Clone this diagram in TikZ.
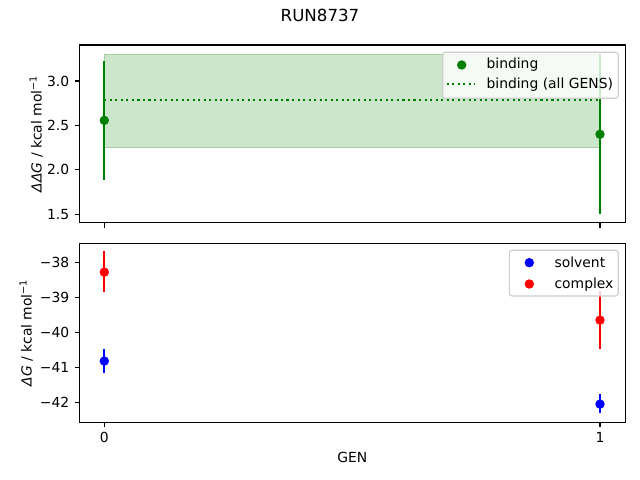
\documentclass[tikz,border=0pt]{standalone}
\usepackage{fontspec}
\setmainfont{DejaVu Sans}
\usetikzlibrary{positioning}
\definecolor{mplgreen}{HTML}{008000}
\definecolor{mplblue}{HTML}{0000FF}
\definecolor{mplred}{HTML}{FF0000}
\definecolor{legframe}{HTML}{CCCCCC}

\begin{document}
\begin{tikzpicture}[x=0.72pt,y=0.72pt,
    lbl/.style={inner sep=0pt,font=\fontsize{10}{12}\selectfont},
    dot/.style={circle,fill=#1,inner sep=0pt,minimum size=6.8pt},
    ebar/.style={#1,line width=1.5pt},
    spine/.style={line width=0.8pt},
    legbox/.style={draw=legframe,fill=white,fill opacity=0.8,line width=0.8pt,rounded corners=2pt}]
  \useasboundingbox (0,0) rectangle (640,480);
  % axes frames, in pixels with y going up
  \coordinate (topSW) at (79.3,257.3);
  \coordinate (topNE) at (625.3,435);
  \coordinate (botSW) at (79.3,57.7);
  \coordinate (botNE) at (625.3,236.7);
  \node[lbl,font=\fontsize{12}{14}\selectfont,anchor=base] (title) at (320,458.3) {RUN8737};

  % upper panel: GEN against binding free energy
  \begin{scope}[shift={(75.096pt,95.472pt)},x=356.904pt,y=63.936pt]
    \fill[mplgreen,opacity=0.2] (0,2.25) rectangle (1,3.30);
    \draw[mplgreen,opacity=0.2,line width=1pt] (0,2.25) rectangle (1,3.30);
    \draw[mplgreen,line width=1.5pt,dash pattern=on 1.5pt off 2.475pt] (0,2.79) -- (1,2.79);
    \draw[ebar=mplgreen] (0,1.885) -- (0,3.225);
    \draw[ebar=mplgreen] (1,1.50) -- (1,3.30);
    \node[dot=mplgreen] (bind0) at (0,2.557) {};
    \node[dot=mplgreen] (bind1) at (1,2.40) {};
    \foreach \v in {1.5,2.0,2.5,3.0}{\draw[spine] (-0.05,\v) -- ++(-3.5pt,0) node[lbl,left=3.5pt] {\v};}
    \foreach \g in {0,1}{\draw[spine] (\g,1.404) -- ++(0,-3.5pt);}
  \end{scope}
  \draw[spine] (topSW) rectangle (topNE);
  \node[lbl,rotate=90,anchor=base] (ylabTop) at (41.7,346.2) {{\itshape ΔΔG} / kcal mol\textsuperscript{−1}};

  % lower panel: solvent and complex legs
  \begin{scope}[shift={(75.096pt,1114.056pt)},x=356.904pt,y=25.2pt]
    \draw[ebar=mplred] (0,-37.67) -- (0,-38.83);
    \draw[ebar=mplblue] (0,-40.47) -- (0,-41.14);
    \draw[ebar=mplred] (1,-38.81) -- (1,-40.47);
    \draw[ebar=mplblue] (1,-41.75) -- (1,-42.30);
    \node[dot=mplred] (cplx0) at (0,-38.27) {};
    \node[dot=mplblue] (solv0) at (0,-40.81) {};
    \node[dot=mplred] (cplx1) at (1,-39.64) {};
    \node[dot=mplblue] (solv1) at (1,-42.04) {};
    \foreach \v/\t in {-38/38,-39/39,-40/40,-41/41,-42/42}{\draw[spine] (-0.05,\v) -- ++(-3.5pt,0) node[lbl,left=3.5pt] {−\t};}
    \foreach \g in {0,1}{\draw[spine] (\g,-42.56) -- ++(0,-3.5pt) node[lbl,below=3.5pt] {\g};}
  \end{scope}
  \draw[spine] (botSW) rectangle (botNE);
  \node[lbl,rotate=90,anchor=base] (ylabBot) at (31.7,147.2) {{\itshape ΔG} / kcal mol\textsuperscript{−1}};
  \node[lbl,anchor=base] (xlab) at (352.3,17.7) {GEN};

  % legends
  \draw[legbox] (442.7,381.7) rectangle (618.2,427.8);
  \node[dot=mplgreen] (legBind) at (461.7,415) {};
  \node[lbl,anchor=base west] (legBindTxt) at (486.3,411) {binding};
  \coordinate (legDotL) at (446.7,396);
  \coordinate (legDotR) at (475,396);
  \draw[mplgreen,line width=1.5pt,dash pattern=on 1.5pt off 2.475pt] (legDotL) -- (legDotR);
  \node[lbl,anchor=base west] (legAllTxt) at (486.3,391) {binding (all GENS)};
  \draw[legbox] (509.3,184) rectangle (618.2,229.8);
  \node[dot=mplblue] (legSolv) at (529.3,217.3) {};
  \node[lbl,anchor=base west] (legSolvTxt) at (554.3,212.7) {solvent};
  \node[dot=mplred] (legCplx) at (529.3,196) {};
  \node[lbl,anchor=base west] (legCplxTxt) at (554.3,191.7) {complex};
\end{tikzpicture}
\end{document}
